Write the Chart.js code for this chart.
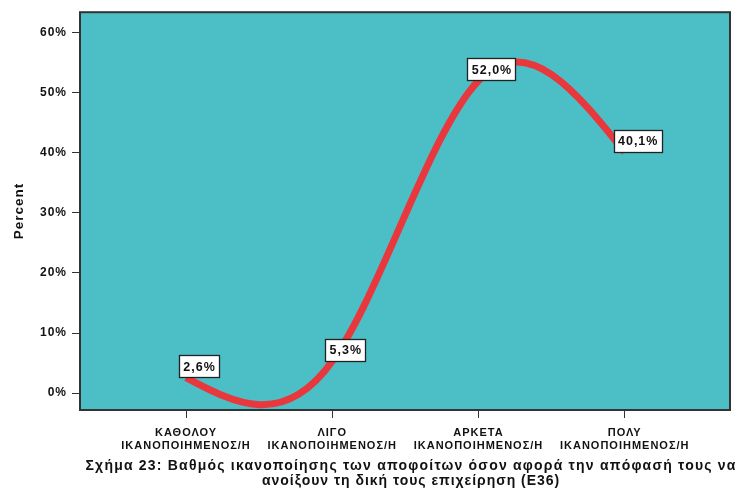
<!DOCTYPE html>
<html><head><meta charset="utf-8">
<script src="https://cdn.jsdelivr.net/npm/chart.js@4"></script>
<style>html,body{margin:0;padding:0;background:#fff}canvas{display:block}</style>
</head><body>
<canvas id="c" width="738" height="493"></canvas>
<script>
const categories = [
  ["ΚΑΘΟΛΟΥ", "ΙΚΑΝΟΠΟΙΗΜΕΝΟΣ/Η"],
  ["ΛΙΓΟ", "ΙΚΑΝΟΠΟΙΗΜΕΝΟΣ/Η"],
  ["ΑΡΚΕΤΑ", "ΙΚΑΝΟΠΟΙΗΜΕΝΟΣ/Η"],
  ["ΠΟΛΥ", "ΙΚΑΝΟΠΟΙΗΜΕΝΟΣ/Η"]
];
const percentValues = [2.6, 5.3, 52.0, 40.1];
const valueLabels = ["2,6%", "5,3%", "52,0%", "40,1%"];
const yTickValues = [0, 10, 20, 30, 40, 50, 60];
const yTickLabels = ["0%", "10%", "20%", "30%", "40%", "50%", "60%"];
const yAxisTitle = "Percent";
const captionLines = [
  "Σχήμα 23: Βαθμός ικανοποίησης των αποφοίτων όσον αφορά την απόφασή τους να",
  "ανοίξουν τη δική τους επιχείρηση (Ε36)"
];

const TEAL = '#4BBFC5';
const RED = '#E8383D';
const FONT = '"Liberation Sans", Arial, sans-serif';

// natural cubic spline second derivatives (uniform spacing h = 1)
function naturalSplineM(y) {
  const n = y.length;
  const M = new Array(n).fill(0);
  if (n < 3) return M;
  const m = n - 2;
  const a = [], b = [], c = [], d = [];
  for (let i = 0; i < m; i++) {
    a.push(1); b.push(4); c.push(1);
    d.push(6 * (y[i] - 2 * y[i + 1] + y[i + 2]));
  }
  for (let i = 1; i < m; i++) {
    const w = a[i] / b[i - 1];
    b[i] -= w * c[i - 1];
    d[i] -= w * d[i - 1];
  }
  const sol = new Array(m);
  sol[m - 1] = d[m - 1] / b[m - 1];
  for (let i = m - 2; i >= 0; i--) sol[i] = (d[i] - c[i] * sol[i + 1]) / b[i];
  for (let i = 0; i < m; i++) M[i + 1] = sol[i];
  return M;
}

const splinePlugin = {
  id: 'splineCurve',
  beforeUpdate(chart) { chart.ctx.letterSpacing = '1px'; },
  beforeDraw(chart) {
    const {ctx, chartArea: a} = chart;
    ctx.letterSpacing = '1px';
    ctx.save();
    ctx.fillStyle = '#fff';
    ctx.fillRect(0, 0, chart.width, chart.height);
    ctx.fillStyle = TEAL;
    ctx.fillRect(a.left, a.top, a.right - a.left, a.bottom - a.top);
    ctx.restore();
  },
  afterDatasetsDraw(chart) {
    const {ctx, chartArea: a} = chart;
    const xs = chart.scales.x, ys = chart.scales.y;
    const y = percentValues;
    const M = naturalSplineM(y);
    const P = (xv, yv) => [xs.getPixelForValue(xv), ys.getPixelForValue(yv)];
    ctx.save();
    ctx.beginPath();
    ctx.rect(a.left, a.top, a.right - a.left, a.bottom - a.top);
    ctx.clip();
    ctx.beginPath();
    const p0 = P(0, y[0]);
    ctx.moveTo(p0[0], p0[1]);
    for (let i = 0; i < y.length - 1; i++) {
      const dy = y[i + 1] - y[i];
      const d0 = dy - (2 * M[i] + M[i + 1]) / 6;
      const d1 = dy + (M[i] + 2 * M[i + 1]) / 6;
      const c1 = P(i + 1 / 3, y[i] + d0 / 3);
      const c2 = P(i + 1 - 1 / 3, y[i + 1] - d1 / 3);
      const e = P(i + 1, y[i + 1]);
      ctx.bezierCurveTo(c1[0], c1[1], c2[0], c2[1], e[0], e[1]);
    }
    ctx.strokeStyle = RED;
    ctx.lineWidth = 7;
    ctx.lineCap = 'butt';
    ctx.lineJoin = 'round';
    ctx.stroke();
    ctx.restore();

    // value labels
    ctx.save();
    ctx.letterSpacing = '1px';
    ctx.font = 'bold 12.5px ' + FONT;
    ctx.textAlign = 'center';
    ctx.textBaseline = 'middle';
    for (let i = 0; i < y.length; i++) {
      const [px, py] = P(i, y[i]);
      const txt = valueLabels[i];
      const tw = ctx.measureText(txt).width;
      const w = Math.round(tw + 8), h = 22;
      const cx = px + 13, cy = py - 11.5;
      const bx = Math.round(cx - w / 2) + 0.5, by = Math.round(cy - h / 2) + 0.5;
      ctx.fillStyle = '#fff';
      ctx.fillRect(bx, by, w, h);
      ctx.strokeStyle = '#222';
      ctx.lineWidth = 1.3;
      ctx.strokeRect(bx, by, w, h);
      ctx.fillStyle = '#111';
      ctx.fillText(txt, cx + 0.5, cy + 1);
    }
    ctx.restore();
  },
  afterDraw(chart) {
    const {ctx, chartArea: a} = chart;
    ctx.save();
    ctx.strokeStyle = '#333';
    ctx.lineWidth = 2;
    ctx.strokeRect(a.left, a.top, a.right - a.left, a.bottom - a.top);
    // caption
    ctx.font = 'bold 14px ' + FONT;
    ctx.fillStyle = '#111';
    ctx.textAlign = 'left';
    ctx.textBaseline = 'middle';
    const targets = [651, 298];
    const ys = [466, 481];
    const cx = 411;
    captionLines.forEach((t, i) => {
      ctx.letterSpacing = '0px';
      const w0 = ctx.measureText(t).width;
      const n = [...t].length;
      const sp = (targets[i] - w0) / n;
      ctx.letterSpacing = sp.toFixed(2) + 'px';
      ctx.fillText(t, cx - targets[i] / 2, ys[i]);
    });
    ctx.restore();
  }
};

new Chart(document.getElementById('c'), {
  type: 'line',
  data: {
    datasets: [{
      data: percentValues.map((v, i) => ({x: i, y: v})),
      showLine: false,
      pointRadius: 0,
      borderColor: RED
    }]
  },
  options: {
    responsive: false,
    animation: false,
    devicePixelRatio: 1,
    layout: {padding: {left: 0, right: 8, top: 11, bottom: 0}},
    plugins: {legend: {display: false}, tooltip: {enabled: false}},
    scales: {
      x: {
        type: 'linear',
        min: -0.725,
        max: 3.72,
        afterBuildTicks: s => { s.ticks = categories.map((_, i) => ({value: i})); },
        afterFit: s => { s.height = 83; },
        ticks: {
          callback: v => categories[v],
          font: {family: FONT, size: 11, weight: 'bold', lineHeight: 1.15},
          color: '#111',
          padding: 9,
          autoSkip: false,
          maxRotation: 0
        },
        grid: {drawOnChartArea: false, tickLength: 8, color: '#333', tickWidth: 1},
        border: {display: false}
      },
      y: {
        type: 'linear',
        min: -2.8,
        max: 63.4,
        afterBuildTicks: s => { s.ticks = yTickValues.map(v => ({value: v})); },
        afterFit: s => { s.width = 80; },
        ticks: {
          callback: (v) => yTickLabels[yTickValues.indexOf(v)],
          font: {family: FONT, size: 12, weight: 'bold'},
          color: '#111',
          padding: 5
        },
        grid: {drawOnChartArea: false, tickLength: 8, color: '#333', tickWidth: 1},
        border: {display: false},
        title: {
          display: true,
          text: yAxisTitle,
          font: {family: FONT, size: 13.5, weight: 'bold'},
          color: '#111',
          padding: {top: 11, bottom: 0}
        }
      }
    }
  },
  plugins: [splinePlugin]
});
</script>
</body></html>
